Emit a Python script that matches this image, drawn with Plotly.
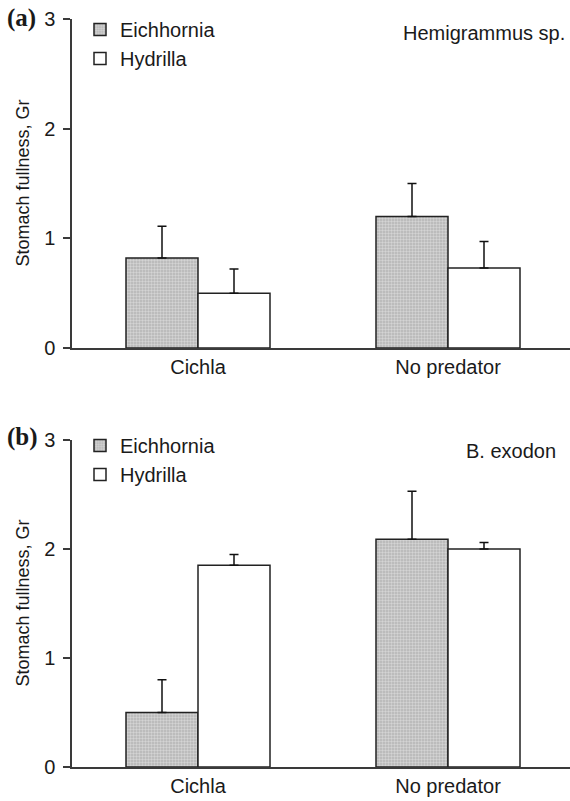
import plotly.graph_objects as go

W, H = 570, 801

categories = ["Cichla", "No predator"]
series_names = ["Eichhornia", "Hydrilla"]

# Panel (a) Hemigrammus sp.
a_eich = [0.82, 1.20]
a_eich_err = [0.29, 0.30]
a_hydr = [0.50, 0.73]
a_hydr_err = [0.22, 0.24]

# Panel (b) B. exodon
b_eich = [0.50, 2.09]
b_eich_err = [0.30, 0.44]
b_hydr = [1.85, 2.00]
b_hydr_err = [0.10, 0.06]

y_ticks = [0, 1, 2, 3]

FONT = "Liberation Sans, Arial, Helvetica, sans-serif"
TXT = "#1a1a1a"
AX = "#3a3a3a"

def px(x):
    return x / W

def py(y):
    return 1 - y / H

gray_pattern = dict(shape=".", fgcolor="#f4f4f4", bgcolor="#b4b4b4", size=3, solidity=0.5)

fig = go.Figure()

def add_bars(vals, errs, name, xa, ya, patterned, legend):
    marker = dict(line=dict(color="#222222", width=1.5))
    if patterned:
        marker["color"] = "#b4b4b4"
        marker["pattern"] = gray_pattern
    else:
        marker["color"] = "white"
    fig.add_trace(go.Bar(
        x=categories, y=vals, name=name, xaxis=xa, yaxis=ya,
        marker=marker, legend=legend,
        error_y=dict(type="data", symmetric=False, array=errs,
                     arrayminus=[0] * len(errs), color="#111111",
                     thickness=1.5, width=4.5),
    ))

add_bars(a_eich, a_eich_err, series_names[0], "x", "y", True, "legend")
add_bars(a_hydr, a_hydr_err, series_names[1], "x", "y", False, "legend")
add_bars(b_eich, b_eich_err, series_names[0], "x2", "y2", True, "legend2")
add_bars(b_hydr, b_hydr_err, series_names[1], "x2", "y2", False, "legend2")

xdom = [px(72), 1.0]
xrange_ = [-0.504, 1.488]

def xaxis(anchor):
    return dict(domain=xdom, anchor=anchor, range=xrange_, type="category",
                showline=True, linecolor=AX, linewidth=1.5, ticks="",
                showgrid=False, zeroline=False, fixedrange=True,
                tickfont=dict(family=FONT, size=20, color=TXT),
                ticklabelstandoff=0, automargin=False)

def yaxis(domain, anchor):
    return dict(domain=domain, anchor=anchor, range=[0, 3], tickvals=y_ticks,
                ticktext=[str(v) for v in y_ticks],
                showline=True, linecolor=AX, linewidth=1.5,
                ticks="outside", ticklen=7, tickwidth=1.5, tickcolor=AX,
                showgrid=False, zeroline=False, fixedrange=True,
                tickfont=dict(family=FONT, size=20, color=TXT),
                ticklabelstandoff=4, automargin=False)

legend_common = dict(font=dict(family=FONT, size=20, color=TXT),
                     bgcolor="rgba(0,0,0,0)", borderwidth=0,
                     xanchor="left", yanchor="top", itemclick=False,
                     traceorder="normal")

fig.update_layout(
    width=W, height=H,
    margin=dict(l=0, r=0, t=0, b=0),
    paper_bgcolor="white", plot_bgcolor="white",
    barmode="group", bargap=0.424, bargroupgap=0,
    font=dict(family=FONT, color=TXT),
    xaxis=xaxis("y"),
    yaxis=yaxis([py(348), py(19)], "x"),
    xaxis2=xaxis("y2"),
    yaxis2=yaxis([py(767), py(440)], "x2"),
    legend=dict(x=px(80), y=py(10), **legend_common),
    legend2=dict(x=px(80), y=py(426), **legend_common),
    showlegend=True,
)

ann = []
for label, yc in [("(a)", 18), ("(b)", 437)]:
    ann.append(dict(text="<b>%s</b>" % label, x=px(5), y=py(yc), xref="paper", yref="paper",
                    xanchor="left", yanchor="middle", showarrow=False,
                    font=dict(family="Liberation Serif, Times New Roman, serif", size=25, color=TXT)))
for yc in [183.5, 603.5]:
    ann.append(dict(text="Stomach fullness, Gr", x=px(22), y=py(yc), xref="paper", yref="paper",
                    xanchor="center", yanchor="middle", textangle=-90, showarrow=False,
                    font=dict(family=FONT, size=18, color=TXT)))
ann.append(dict(text="Hemigrammus sp.", x=px(567), y=py(33), xref="paper", yref="paper",
                xanchor="right", yanchor="middle", showarrow=False,
                font=dict(family=FONT, size=20, color=TXT)))
ann.append(dict(text="B. exodon", x=px(558), y=py(451), xref="paper", yref="paper",
                xanchor="right", yanchor="middle", showarrow=False,
                font=dict(family=FONT, size=20, color=TXT)))
fig.update_layout(annotations=ann)

fig.write_html("out.html", config={"displayModeBar": False},
               post_script="document.body.style.margin='0';document.body.style.overflow='hidden';")
